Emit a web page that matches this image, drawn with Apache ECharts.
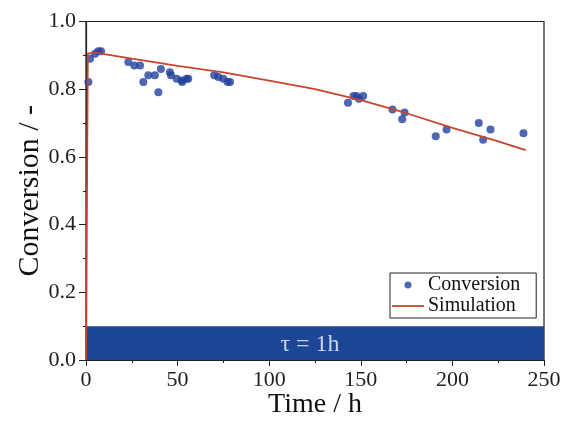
<!DOCTYPE html>
<html><head><meta charset="utf-8">
<script src="https://cdn.jsdelivr.net/npm/echarts@6/dist/echarts.min.js"></script>
<style>html,body{margin:0;padding:0;background:#fff}#c{width:561px;height:421px}</style>
</head><body><div id="c"></div>
<script>
// Measured conversion data (time h, conversion)
const convTime = [1.3, 2.2, 4.9, 6.7, 8.2, 23.1, 26.4, 29.5, 31.3, 34, 37.6, 39.5, 40.9, 45.8, 46.4, 49.5, 52.2, 52.5, 54.9, 55.8, 70, 72.2, 74.9, 77.3, 78.6, 143, 146, 147.7, 149, 151.3, 167.3, 172.6, 173.9, 190.9, 196.8, 214.4, 216.8, 220.8, 238.8];
const convValue = [0.821, 0.89, 0.905, 0.912, 0.912, 0.88, 0.87, 0.87, 0.821, 0.841, 0.841, 0.791, 0.86, 0.85, 0.841, 0.831, 0.826, 0.821, 0.831, 0.831, 0.841, 0.836, 0.831, 0.821, 0.821, 0.76, 0.78, 0.78, 0.772, 0.78, 0.74, 0.711, 0.731, 0.661, 0.681, 0.7, 0.651, 0.681, 0.67];
// Simulation curve
const simTime = [0, 1, 5, 25, 50, 75, 100, 125, 150, 175, 200, 225, 240];
const simValue = [0, 0.905, 0.908, 0.89, 0.869, 0.85, 0.825, 0.8, 0.768, 0.729, 0.686, 0.646, 0.62];
// Band annotation
const bandRange = [0, 0.1];
const bandLabel = 'τ = 1h';
const xTicks = [0, 50, 100, 150, 200, 250];
const yTicks = [0.0, 0.2, 0.4, 0.6, 0.8, 1.0];

const serif = '"Liberation Serif", "DejaVu Serif", serif';
const chart = echarts.init(document.getElementById('c'));
chart.setOption({
  animation: false,
  backgroundColor: '#fff',
  grid: {left: 86, right: 17, top: 21.5, bottom: 61, show: true, borderColor: '#222', borderWidth: 1.2,
         containLabel: false, outerBoundsMode: 'none'},
  legend: {
    orient: 'vertical', left: 390, top: 273,
    borderColor: '#222', borderWidth: 1, borderRadius: 0,
    padding: [2, 16, 2, 2], itemGap: 1, itemWidth: 32, itemHeight: 7,
    textStyle: {fontFamily: serif, fontSize: 20, color: '#111', padding: [0, 0, 0, -1]},
    data: [
      {name: 'Conversion', icon: 'circle'},
      {name: 'Simulation', icon: 'path://M0,0 L32,0 L32,1.8 L0,1.8 Z'}
    ]
  },
  xAxis: {
    type: 'value', min: xTicks[0], max: xTicks[xTicks.length - 1], interval: 50,
    name: 'Time / h', nameLocation: 'middle', nameGap: 31, nameMoveOverlap: false,
    nameTextStyle: {fontFamily: serif, fontSize: 28, color: '#111'},
    axisLine: {lineStyle: {color: '#222', width: 1.2}},
    axisTick: {show: true, inside: false, length: 6, lineStyle: {color: '#222'}},
    minorTick: {show: true, splitNumber: 2, length: 3, lineStyle: {color: '#222'}},
    splitLine: {show: false},
    axisLabel: {fontFamily: serif, fontSize: 22, color: '#222', margin: 9}
  },
  yAxis: {
    type: 'value', min: yTicks[0], max: yTicks[yTicks.length - 1], interval: 0.2,
    name: 'Conversion / -', nameLocation: 'middle', nameGap: 41, nameMoveOverlap: false,
    nameTextStyle: {fontFamily: serif, fontSize: 30, color: '#111'},
    axisLine: {lineStyle: {color: '#222', width: 1.2}},
    axisTick: {show: true, inside: false, length: 7, lineStyle: {color: '#222'}},
    minorTick: {show: true, splitNumber: 2, length: 3, lineStyle: {color: '#222'}},
    splitLine: {show: false},
    axisLabel: {fontFamily: serif, fontSize: 22, color: '#222', margin: 10, formatter: v => v.toFixed(1)}
  },
  series: [
    {
      name: 'Band', type: 'line', data: [], silent: true,
      markArea: {
        silent: true,
        itemStyle: {color: '#1d4796', opacity: 1},
        label: {show: true, position: 'inside', color: '#c9d5ef', fontFamily: serif, fontSize: 24, offset: [-5, 2]},
        data: [[{name: bandLabel, xAxis: xTicks[0], yAxis: bandRange[0]}, {xAxis: xTicks[xTicks.length - 1], yAxis: bandRange[1]}]]
      },
      z: 1
    },
    {
      name: 'Conversion', type: 'scatter', symbol: 'circle', symbolSize: 8,
      itemStyle: {color: '#23409c'},
      data: convTime.map((t, i) => [t, convValue[i]]), z: 3
    },
    {
      name: 'Simulation', type: 'line', smooth: false, showSymbol: false, symbol: 'none',
      lineStyle: {color: '#c9442e', width: 1.8},
      itemStyle: {color: '#c9442e'},
      data: simTime.map((t, i) => [t, simValue[i]]), z: 4
    }
  ]
});
</script></body></html>
